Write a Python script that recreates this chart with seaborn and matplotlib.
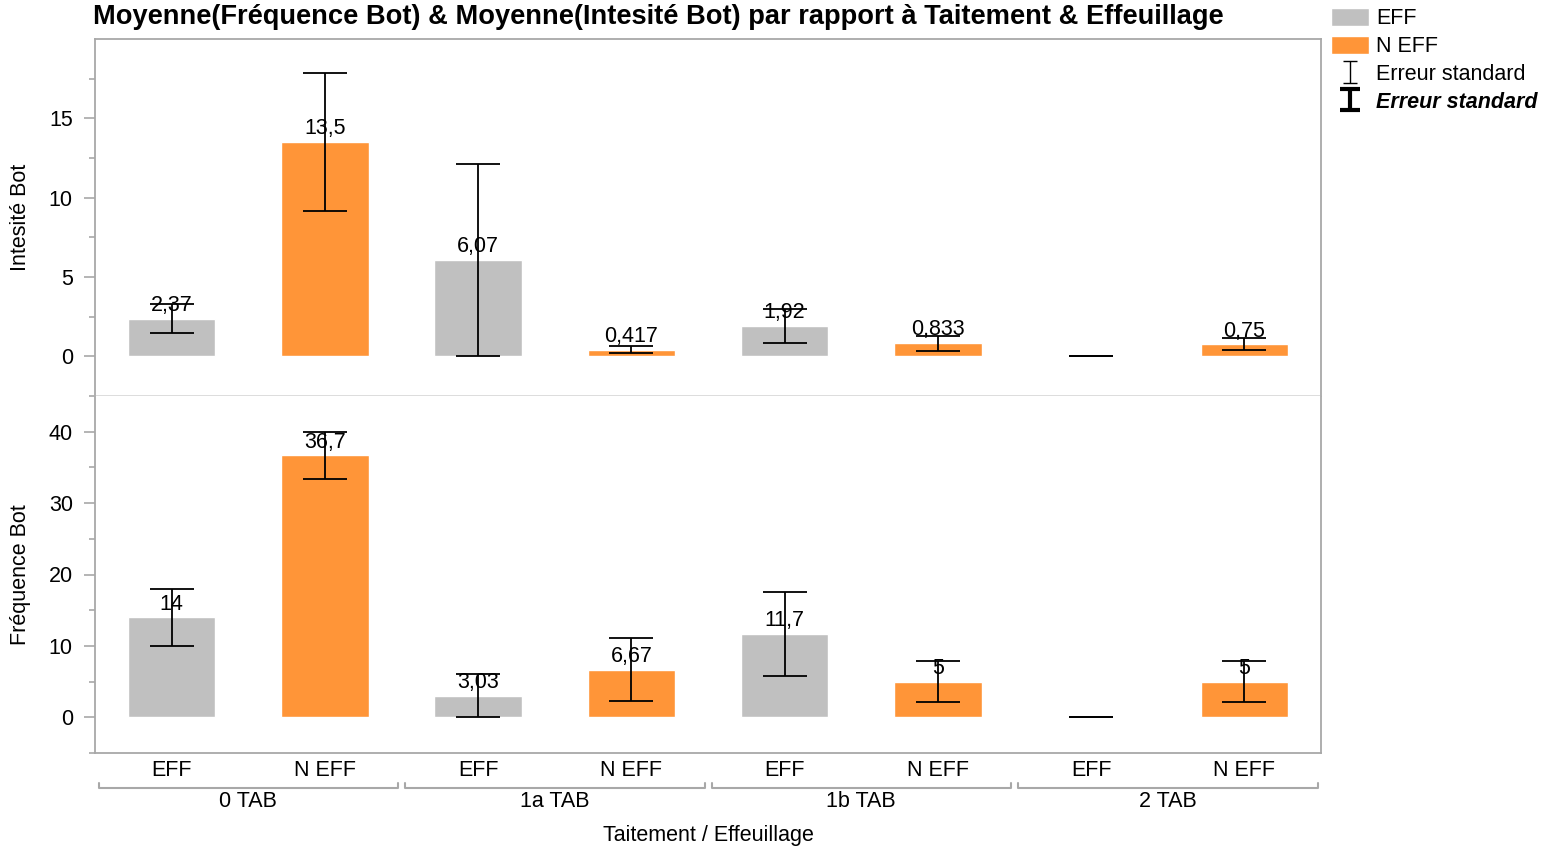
import numpy as np
import pandas as pd
import seaborn as sns
import matplotlib.pyplot as plt
from matplotlib import transforms
from matplotlib.patches import Patch

# données
traitements = ["0 TAB", "1a TAB", "1b TAB", "2 TAB"]
effeuillages = ["EFF", "N EFF"]

intensite = [2.37, 13.5, 6.07, 0.417, 1.92, 0.833, 0, 0.75]
intensite_se = [0.91, 4.36, 6.07, 0.21, 1.08, 0.47, 0, 0.38]
frequence = [14, 36.7, 3.03, 6.67, 11.7, 5, 0, 5]
frequence_se = [4.0, 3.3, 3.03, 4.38, 5.9, 2.89, 0, 2.89]

df = pd.DataFrame({
    "Taitement": np.repeat(traitements, len(effeuillages)),
    "Effeuillage": effeuillages * len(traitements),
    "Intesité Bot": intensite,
    "se_int": intensite_se,
    "Fréquence Bot": frequence,
    "se_freq": frequence_se,
})
df["Barre"] = df["Taitement"] + " / " + df["Effeuillage"]

palette = {"EFF": "#c0c0c0", "N EFF": "#ff9538"}
frame_col = "#a8a8a8"
fs = 15.5

sns.set_theme(style="white")
plt.rcParams["font.family"] = ["Liberation Sans", "DejaVu Sans"]
plt.rcParams["text.color"] = "black"
plt.rcParams["axes.labelcolor"] = "black"
plt.rcParams["xtick.labelcolor"] = "black"
plt.rcParams["ytick.labelcolor"] = "black"

fig, axes = plt.subplots(2, 1, sharex=True, figsize=(15.42, 8.52), dpi=100)
fig.subplots_adjust(left=95 / 1542, right=1321 / 1542, bottom=1 - 753 / 852,
                    top=1 - 39 / 852, hspace=0)

panels = [
    ("Intesité Bot", "se_int", (-2.5, 20), [0, 5, 10, 15], 2.5),
    ("Fréquence Bot", "se_freq", (-5, 45), [0, 10, 20, 30, 40], 5),
]
for ax, (col, se_col, ylim, majors, minor) in zip(axes, panels):
    sns.barplot(data=df, x="Barre", y=col, hue="Effeuillage", palette=palette,
                dodge=False, width=0.57, errorbar=None, saturation=1,
                legend=False, ax=ax)
    ax.errorbar(np.arange(len(df)), df[col], yerr=df[se_col], fmt="none",
                ecolor="black", elinewidth=1.3, capsize=16, capthick=1.3)
    for x, v in enumerate(df[col]):
        if v:
            ax.annotate(f"{v:.3g}".replace(".", ","), (x, v), xytext=(0, 5.5),
                        textcoords="offset points", ha="center", va="baseline",
                        fontsize=fs)
    ax.set_ylim(*ylim)
    ax.set_yticks(majors)
    ax.set_yticks(np.arange(ylim[0], ylim[1], minor), minor=True)
    ax.tick_params(axis="y", which="both", left=True, direction="out",
                   color=frame_col, width=1.2, labelsize=fs)
    ax.tick_params(axis="y", which="major", length=8, pad=8)
    ax.tick_params(axis="y", which="minor", length=4)
    ax.set_ylabel(col, fontsize=fs, labelpad=13)
    ax.set_xlabel("")
    for s in ax.spines.values():
        s.set_color(frame_col)
        s.set_linewidth(1.3)

axes[0].spines["bottom"].set_color("#dadada")
axes[1].spines["top"].set_visible(False)
axes[1].set_xlim(-0.5, len(df) - 0.5)

ax = axes[1]
ax.set_xticks(np.arange(len(df)))
ax.set_xticklabels(df["Effeuillage"])
ax.tick_params(axis="x", length=0, pad=5, labelsize=fs)

# accolades des groupes de traitement
trans = transforms.blended_transform_factory(ax.transData, ax.transAxes)
for i, t in enumerate(traitements):
    x0, x1 = 2 * i - 0.475, 2 * i + 1.48
    ax.plot([x0, x0, x1, x1], [-0.084, -0.098, -0.098, -0.084], transform=trans,
            color=frame_col, lw=1.5, clip_on=False)
    ax.text(2 * i + 0.5, -0.136, t, transform=trans, ha="center", va="center",
            fontsize=fs)
ax.set_xlabel("Taitement / Effeuillage", fontsize=fs)
ax.xaxis.set_label_coords(0.5, -0.203)

fig.text(93 / 1542, 1 - 17 / 852,
         "Moyenne(Fréquence Bot) & Moyenne(Intesité Bot) par rapport à Taitement & Effeuillage",
         fontsize=19.6, fontweight="bold", va="center", ha="left")

# légende
eb_thin = axes[0].errorbar([np.nan], [np.nan], yerr=[np.nan], fmt="none",
                           ecolor="black", elinewidth=1, capsize=5, capthick=1)
eb_bold = axes[0].errorbar([np.nan], [np.nan], yerr=[np.nan], fmt="none",
                           ecolor="black", elinewidth=3, capsize=7, capthick=3)
handles = [Patch(facecolor=palette["EFF"]), Patch(facecolor=palette["N EFF"]),
           eb_thin, eb_bold]
labels = ["EFF", "N EFF", "Erreur standard", "Erreur standard"]
leg = fig.legend(handles, labels, loc="upper left",
                 bbox_to_anchor=(1331 / 1542, 1 - 8 / 852), frameon=False,
                 fontsize=fs, handlelength=1.75, handleheight=0.9,
                 handletextpad=0.36, labelspacing=0.3, borderaxespad=0,
                 borderpad=0)
leg.get_texts()[3].set_fontweight("bold")
leg.get_texts()[3].set_fontstyle("italic")

fig.savefig("out.png", dpi=100)
